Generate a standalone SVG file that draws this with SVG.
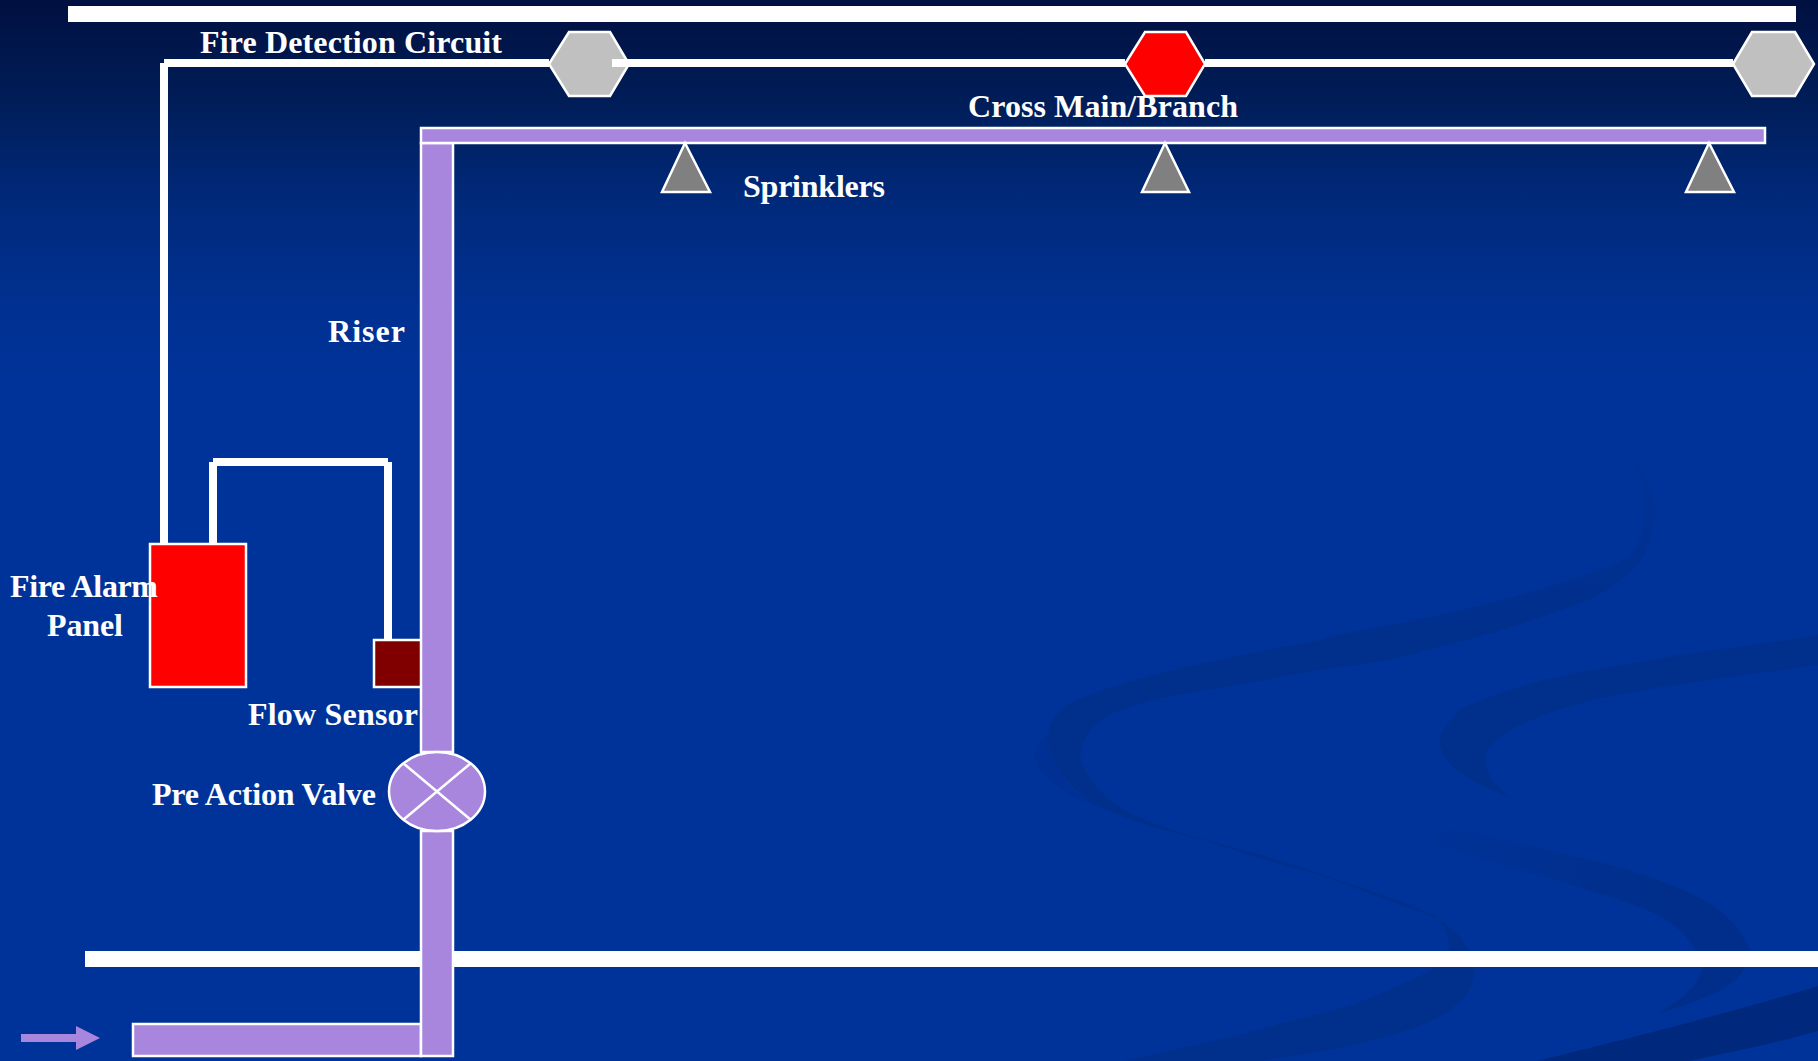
<svg xmlns="http://www.w3.org/2000/svg" width="1818" height="1061" viewBox="0 0 1818 1061">
<style>
.wire{fill:#fff}
.pipe{fill:#a886dd;stroke:#fff;stroke-width:2.5}
.hex{stroke:#fff;stroke-width:2.5}
.spr{fill:#808080;stroke:#fff;stroke-width:2.5}
.lbl{font-family:"Liberation Serif","Times New Roman",serif;font-weight:bold;font-size:32px;fill:#fff}
.sw{fill:#002f8c}
</style>
<defs>
<linearGradient id="bg" x1="0" y1="0" x2="0" y2="375" gradientUnits="userSpaceOnUse">
<stop offset="0" stop-color="#001040"/><stop offset="0.27" stop-color="#001d58"/><stop offset="0.53" stop-color="#00297a"/><stop offset="0.8" stop-color="#003090"/><stop offset="1" stop-color="#003399"/>
</linearGradient>
<linearGradient id="fadeA" x1="0" y1="447" x2="0" y2="640" gradientUnits="userSpaceOnUse">
<stop offset="0" stop-color="#003297"/><stop offset="1" stop-color="#002f8c"/>
</linearGradient>
<linearGradient id="fadeC" x1="1430" y1="0" x2="1680" y2="0" gradientUnits="userSpaceOnUse">
<stop offset="0" stop-color="#003297"/><stop offset="1" stop-color="#002e8a"/>
</linearGradient>
</defs>
<g id="background">
<rect width="1818" height="1061" fill="url(#bg)"/>
<path fill="#003094" d="M1048,733 C1040,740 1035,748 1035,755 C1036,768 1045,778 1063,790 C1075,798 1090,804 1107,810 L1087,800 C1070,790 1057,775 1048,740Z"/>
<path fill="url(#fadeA)" d="M1626,447 C1645,480 1655,520 1631,555 C1610,570 1540,590 1470,608 C1400,625 1350,630 1320,640 C1210,660 1120,680 1070,703 C1055,713 1050,722 1048,735 C1048,755 1060,778 1087,800 C1120,818 1160,830 1203,840 C1260,860 1300,868 1339,882 C1400,905 1430,915 1443,922 C1462,935 1472,950 1475,972 C1472,990 1465,998 1459,1002 C1445,1016 1430,1022 1417,1027 C1380,1040 1340,1050 1261,1061 L1125,1061 C1180,1048 1220,1040 1261,1029 C1300,1018 1340,1010 1365,1000 C1400,985 1425,975 1433,968 C1445,958 1450,950 1449,943 C1447,930 1440,920 1433,915 C1400,900 1370,890 1339,880 C1290,862 1250,852 1207,840 C1170,830 1140,820 1120,807 C1100,795 1085,775 1080,757 C1082,743 1088,730 1097,723 C1110,712 1130,707 1153,700 C1210,688 1270,680 1320,670 C1360,665 1390,660 1417,653 C1450,643 1490,635 1522,624 C1560,610 1595,600 1610,588 C1630,575 1645,560 1647,547 C1655,530 1657,515 1655,506 C1653,485 1640,465 1626,447Z"/>
<path class="sw" d="M1818,635 C1756,645 1705,651 1673,656 C1600,670 1533,675 1459,710 C1446,725 1438,735 1440,745 C1443,767 1475,784 1511,798 C1493,784 1483,772 1486,751 C1501,731 1537,714 1600,698 C1668,684 1746,675 1818,665Z"/>
<path fill="url(#fadeC)" d="M1428,843 C1433,835 1443,829 1456,829 C1548,851 1626,864 1683,890 C1725,908 1744,931 1750,951 C1746,980 1725,994 1657,1014 C1688,996 1702,980 1702,964 C1694,940 1673,921 1647,910 C1569,882 1496,864 1428,843Z"/>
<path fill="#00297e" d="M1537,1061 C1626,1039 1730,1013 1818,986 L1818,1031 C1772,1044 1730,1052 1689,1061Z"/>
</g>
<g id="frame-bars">
<rect class="wire" x="68" y="6" width="1728" height="16"/>
<rect class="wire" x="85" y="951" width="1733" height="16"/>
</g>
<g id="connectors">
<rect class="wire" x="164" y="59" width="385" height="8"/>
<rect class="wire" x="160" y="63" width="8" height="481"/>
<rect class="wire" x="612" y="59" width="513" height="8"/>
<rect class="wire" x="1205" y="59" width="528" height="8"/>
<rect class="wire" x="209" y="462" width="8" height="82"/>
<rect class="wire" x="213" y="458" width="175" height="8"/>
<rect class="wire" x="384" y="462" width="8" height="178"/>
</g>
<g id="detector-1"><polygon class="hex" fill="#c0c0c0" points="549,64 569,32 610,32 629,64 610,96 569,96"/><rect class="wire" x="612" y="59" width="17" height="8"/></g>
<g id="detector-2"><polygon class="hex" fill="#ff0000" points="1125,64 1145,32 1186,32 1205,64 1186,96 1145,96"/></g>
<g id="detector-3"><polygon class="hex" fill="#c0c0c0" points="1733,64 1752,32 1795,32 1814,64 1795,96 1752,96"/></g>
<g id="flow-sensor"><rect x="374" y="640" width="48" height="47" fill="#800000" stroke="#fff" stroke-width="2.5"/></g>
<g id="fire-alarm-panel"><rect x="150" y="544" width="96" height="143" fill="#ff0000" stroke="#fff" stroke-width="2.5"/></g>
<g id="feed-pipe"><rect class="pipe" x="133" y="1024" width="288" height="32"/></g>
<g id="riser"><rect class="pipe" x="421" y="143" width="32" height="609"/></g>
<g id="lower-riser"><rect class="pipe" x="421" y="831" width="32" height="225"/></g>
<g id="cross-main"><rect class="pipe" x="421" y="128" width="1344" height="15"/></g>
<g id="pre-action-valve">
<ellipse class="pipe" cx="437" cy="791.5" rx="48" ry="39.5"/>
<path d="M403,763 L471,820 M471,763 L403,820" stroke="#fff" stroke-width="2.5" fill="none"/>
</g>
<g id="sprinkler-1"><polygon class="spr" points="685,143 662,192 710,192"/></g>
<g id="sprinkler-2"><polygon class="spr" points="1165,143 1142,192 1189,192"/></g>
<g id="sprinkler-3"><polygon class="spr" points="1709,143 1686,192 1734,192"/></g>
<g id="flow-arrow"><polygon fill="#a886dd" points="21,1034 76,1034 76,1026 100,1038 76,1050 76,1042 21,1042"/></g>
<g id="labels">
<text class="lbl" x="200" y="53" textLength="302">Fire Detection Circuit</text>
<text class="lbl" x="968" y="117" textLength="270">Cross Main/Branch</text>
<text class="lbl" x="743" y="197" textLength="142">Sprinklers</text>
<text class="lbl" x="328" y="342" textLength="77">Riser</text>
<text class="lbl" x="10" y="597" textLength="148">Fire Alarm</text>
<text class="lbl" x="47" y="636" textLength="76">Panel</text>
<text class="lbl" x="248" y="725" textLength="170">Flow Sensor</text>
<text class="lbl" x="152" y="805" textLength="224">Pre Action Valve</text>
</g>
</svg>
